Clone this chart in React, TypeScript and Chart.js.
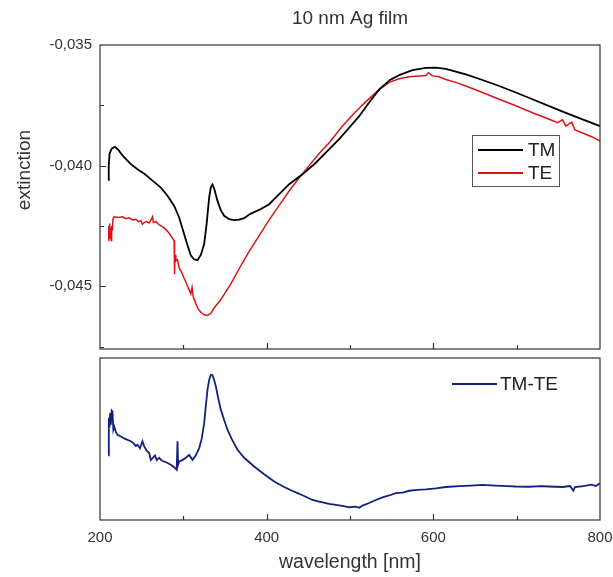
import React, { useEffect, useRef } from 'react';
import { Chart, registerables } from 'chart.js';

Chart.register(...registerables);

// ---------- data ----------
const TITLE = '10 nm Ag film';
const Y_TITLE = 'extinction';
const X_TITLE = 'wavelength [nm]';

const TM_WL = [210, 210.5, 211.5, 214, 218, 222, 228, 237, 245, 254, 263, 273, 281, 289, 295, 301, 305, 309, 313, 317, 321, 325, 328, 331, 333, 335, 337, 341, 345, 349, 355, 361, 367, 373, 380, 393, 403, 409, 427, 443, 459, 473, 487, 499, 511, 523, 535, 548, 559, 575, 591, 603, 615, 627, 639, 659, 679, 699, 719, 739, 759, 779, 800];
const TM_VAL = [-0.0406, -0.0400, -0.0395, -0.0393, -0.03922, -0.03935, -0.03962, -0.03994, -0.04015, -0.04036, -0.04062, -0.04091, -0.04125, -0.04167, -0.04215, -0.04284, -0.0433, -0.04373, -0.04388, -0.04392, -0.0437, -0.04325, -0.0424, -0.04132, -0.0409, -0.04078, -0.04095, -0.04146, -0.04185, -0.04208, -0.04222, -0.04226, -0.04224, -0.04218, -0.04201, -0.0418, -0.0416, -0.04139, -0.04077, -0.04036, -0.03988, -0.03939, -0.0389, -0.03843, -0.03795, -0.03738, -0.03684, -0.03645, -0.03625, -0.03604, -0.03595, -0.03594, -0.03599, -0.0361, -0.03622, -0.03645, -0.0367, -0.03697, -0.03725, -0.03753, -0.03781, -0.03808, -0.03836];

const TE_WL = [210, 210.5, 211, 211.6, 212.2, 212.8, 213.4, 214, 214.8, 215.6, 217, 222, 227, 231, 235, 239, 243, 246, 249, 251, 253, 256, 259, 261, 263, 264, 267, 270, 273, 277, 281, 285, 289, 289.5, 290, 291, 293, 295, 297, 299, 301, 303, 305, 307, 309, 310.5, 312, 315, 318, 321, 325, 329, 333, 337, 345, 357, 369, 379, 391, 403, 415, 427, 439, 451, 463, 475, 491, 503, 515, 527, 535, 547, 559, 571, 583, 591, 594, 599, 607, 615, 627, 639, 659, 679, 699, 719, 739, 749, 755, 759, 766, 770, 780, 790, 800];
const TE_VAL = [-0.0431, -0.0425, -0.043, -0.0424, -0.0429, -0.0426, -0.0431, -0.0425, -0.0427, -0.0422, -0.04212, -0.04215, -0.04212, -0.0422, -0.04216, -0.04225, -0.04222, -0.04232, -0.04228, -0.04243, -0.04236, -0.04232, -0.04238, -0.04226, -0.04212, -0.04236, -0.04232, -0.04242, -0.0425, -0.04258, -0.04272, -0.0429, -0.04311, -0.0445, -0.0437, -0.04395, -0.0439, -0.04425, -0.04436, -0.0445, -0.04468, -0.04482, -0.045, -0.04515, -0.04532, -0.04505, -0.04545, -0.04572, -0.04595, -0.04608, -0.04618, -0.04621, -0.04612, -0.0459, -0.04555, -0.0449, -0.04415, -0.04355, -0.0429, -0.04225, -0.04165, -0.04105, -0.0405, -0.04, -0.0395, -0.03905, -0.03836, -0.0379, -0.03748, -0.0371, -0.03685, -0.03655, -0.0364, -0.03632, -0.03628, -0.03626, -0.03615, -0.03628, -0.03632, -0.03643, -0.03655, -0.0367, -0.03697, -0.03725, -0.03752, -0.03781, -0.03808, -0.03822, -0.0381, -0.03836, -0.0382, -0.03852, -0.03866, -0.0388, -0.03898];

const DIFF_WL = [210, 210.6, 211.4, 212.2, 213, 214, 215, 216, 217, 219, 221, 225, 229, 233, 237, 240, 243, 245, 248, 251, 253, 256, 259, 261, 263, 266, 268, 271, 273, 276, 280, 285, 289, 292, 293, 293.7, 295, 299, 303, 307, 311, 315, 319, 322, 325, 327, 329, 331, 333, 335, 337, 339, 342, 345, 349, 353, 358, 365, 373, 385, 397, 409, 421, 433, 445, 455, 463, 475, 491, 499, 507, 511, 515, 523, 531, 539, 547, 555, 563, 571, 581, 591, 603, 615, 631, 645, 659, 675, 689, 699, 715, 729, 739, 755, 764, 768, 770, 780, 790, 795, 800];
const DIFF_VAL = [0.0018, 0.0034, 0.003, 0.0036, 0.0031, 0.0037, 0.00366, 0.0029, 0.00303, 0.0028, 0.00267, 0.0026, 0.00252, 0.00246, 0.0024, 0.00232, 0.0022, 0.00225, 0.0021, 0.0024, 0.00218, 0.002, 0.0019, 0.0016, 0.00168, 0.0018, 0.0016, 0.0017, 0.00161, 0.00155, 0.0015, 0.0014, 0.0013, 0.00119, 0.0024, 0.0014, 0.00154, 0.0016, 0.0017, 0.00182, 0.00161, 0.0018, 0.00211, 0.0025, 0.00317, 0.0039, 0.00459, 0.005, 0.00522, 0.0052, 0.005, 0.00473, 0.0042, 0.00374, 0.0033, 0.00289, 0.0025, 0.00204, 0.0017, 0.00133, 0.001, 0.00069, 0.00046, 0.00026, 0.00008, -0.00009, -0.00016, -0.00026, -0.00034, -0.0004, -0.00037, -0.00042, -0.00033, -0.00022, -0.00009, 0.00002, 0.0001, 0.0002, 0.00022, 0.0003, 0.00034, 0.00036, 0.0004, 0.00046, 0.0005, 0.00052, 0.00055, 0.00052, 0.0005, 0.00048, 0.00047, 0.0005, 0.00048, 0.00046, 0.0005, 0.0003, 0.00046, 0.0005, 0.00056, 0.0005, 0.00062];

const X_LABEL_TICKS = [200, 400, 600, 800];
const X_MAJOR_INNER = [400, 600];
const X_MINOR_INNER = [300, 500, 700];
const Y_TICKS = [-0.045, -0.04, -0.035];
const Y_MINOR = [-0.0475, -0.0425, -0.0375];

// ---------- styling ----------
const FONT = '"Liberation Sans", Arial, sans-serif';
const TEXT = '#333';
const FRAME = '#333';

const pts = (xs: number[], ys: number[]) => xs.map((x, i) => ({ x, y: ys[i] }));

const framePlugin = {
  id: 'frame',
  afterDatasetsDraw(chart: any, _a: any, opts: any) {
    const { ctx, chartArea: a, scales } = chart;
    ctx.save();
    ctx.strokeStyle = FRAME;
    ctx.lineWidth = 1.2;
    ctx.strokeRect(a.left, a.top, a.right - a.left, a.bottom - a.top);
    ctx.beginPath();
    const xs = scales.x;
    for (const v of opts.xMajor || []) {
      const p = Math.round(xs.getPixelForValue(v)) + 0.5;
      ctx.moveTo(p, a.bottom); ctx.lineTo(p, a.bottom - 6);
    }
    for (const v of opts.xMinor || []) {
      const p = Math.round(xs.getPixelForValue(v)) + 0.5;
      ctx.moveTo(p, a.bottom); ctx.lineTo(p, a.bottom - 4);
    }
    if (opts.yMajor) {
      const ys = scales.y;
      for (const v of opts.yMajor) {
        const p = Math.round(ys.getPixelForValue(v)) + 0.5;
        ctx.moveTo(a.left, p); ctx.lineTo(a.left + 6, p);
      }
      for (const v of opts.yMinor || []) {
        const p = Math.round(ys.getPixelForValue(v)) + 0.5;
        ctx.moveTo(a.left, p); ctx.lineTo(a.left + 4, p);
      }
    }
    ctx.stroke();

    // legend
    const lg = opts.legend;
    if (lg) {
      if (lg.box) {
        ctx.fillStyle = '#fff';
        ctx.fillRect(lg.box.x, lg.box.y, lg.box.w, lg.box.h);
        ctx.strokeStyle = '#555';
        ctx.lineWidth = 1;
        ctx.strokeRect(lg.box.x + 0.5, lg.box.y + 0.5, lg.box.w, lg.box.h);
      }
      ctx.font = `19px ${FONT}`;
      ctx.textBaseline = 'middle';
      ctx.textAlign = 'left';
      lg.items.forEach((it: any) => {
        const ds = chart.data.datasets[it.index];
        ctx.strokeStyle = ds.borderColor;
        ctx.lineWidth = 2;
        ctx.beginPath();
        ctx.moveTo(it.x0, it.y); ctx.lineTo(it.x1, it.y);
        ctx.stroke();
        ctx.fillStyle = '#222';
        ctx.fillText(ds.label, it.tx, it.y + 1);
      });
    }

    // title / y-title
    if (opts.title) {
      ctx.fillStyle = TEXT;
      ctx.font = `19px ${FONT}`;
      ctx.textAlign = 'center';
      ctx.textBaseline = 'middle';
      ctx.fillText(opts.title, (a.left + a.right) / 2, 19);
    }
    if (opts.yTitle) {
      ctx.fillStyle = TEXT;
      ctx.font = `19px ${FONT}`;
      ctx.textAlign = 'center';
      ctx.textBaseline = 'alphabetic';
      ctx.translate(30, 170);
      ctx.rotate(-Math.PI / 2);
      ctx.fillText(opts.yTitle, 0, 0);
    }
    ctx.restore();
  },
};

export default function App() {
  const topRef = useRef<HTMLCanvasElement>(null);
  const botRef = useRef<HTMLCanvasElement>(null);

  useEffect(() => {
    const top = new Chart(topRef.current!, {
      type: 'line',
      data: {
        datasets: [
          { label: 'TM', data: pts(TM_WL, TM_VAL), borderColor: '#000000', borderWidth: 1.8, pointRadius: 0, tension: 0, fill: false },
          { label: 'TE', data: pts(TE_WL, TE_VAL), borderColor: '#d91414', borderWidth: 1.5, pointRadius: 0, tension: 0, fill: false },
        ],
      },
      options: {
        animation: false,
        responsive: false,
        devicePixelRatio: 1,
        parsing: false as any,
        layout: { padding: { top: 45, right: 13, bottom: 6, left: 0 } },
        plugins: {
          legend: { display: false },
          tooltip: { enabled: false },
          frame: {
            xMajor: X_MAJOR_INNER,
            xMinor: X_MINOR_INNER,
            yMajor: Y_TICKS.slice(0, 2),
            yMinor: Y_MINOR,
            title: TITLE,
            yTitle: Y_TITLE,
            legend: {
              box: { x: 472, y: 135, w: 87, h: 51 },
              items: [
                { index: 0, x0: 478, x1: 523, y: 150, tx: 528 },
                { index: 1, x0: 478, x1: 523, y: 173, tx: 528 },
              ],
            },
          },
        } as any,
        scales: {
          x: { type: 'linear', min: 200, max: 800, display: false },
          y: {
            type: 'linear',
            min: -0.0476,
            max: -0.035,
            grid: { display: false, drawTicks: false },
            border: { display: false },
            afterBuildTicks: (s: any) => { s.ticks = Y_TICKS.map((v) => ({ value: v })); },
            afterFit: (s: any) => { s.width = 100; s.paddingTop = 0; s.paddingBottom = 0; },
            ticks: {
              padding: 8,
              color: TEXT,
              font: { family: FONT, size: 15 },
              callback: (v: any) => Number(v).toFixed(3).replace('.', ','),
            },
          },
        },
      },
      plugins: [framePlugin],
    });

    const bot = new Chart(botRef.current!, {
      type: 'line',
      data: {
        datasets: [
          { label: 'TM-TE', data: pts(DIFF_WL, DIFF_VAL), borderColor: '#13207f', borderWidth: 1.8, pointRadius: 0, tension: 0, fill: false },
        ],
      },
      options: {
        animation: false,
        responsive: false,
        devicePixelRatio: 1,
        parsing: false as any,
        layout: { padding: { top: 8, right: 13, bottom: 0, left: 100 } },
        plugins: {
          legend: { display: false },
          tooltip: { enabled: false },
          frame: {
            xMajor: X_MAJOR_INNER,
            xMinor: X_MINOR_INNER,
            legend: {
              items: [{ index: 0, x0: 452, x1: 497, y: 34, tx: 500 }],
            },
          },
        } as any,
        scales: {
          x: {
            type: 'linear',
            min: 200,
            max: 800,
            grid: { display: false, drawTicks: false },
            border: { display: false },
            afterBuildTicks: (s: any) => { s.ticks = X_LABEL_TICKS.map((v) => ({ value: v })); },
            afterFit: (s: any) => { s.height = 57; s.paddingLeft = 0; s.paddingRight = 0; },
            ticks: {
              padding: 9,
              color: TEXT,
              font: { family: FONT, size: 15 },
              maxRotation: 0,
              callback: (v: any) => String(v),
            },
            title: {
              display: true,
              text: X_TITLE,
              color: TEXT,
              font: { family: FONT, size: 19.5 },
              padding: { top: 0, bottom: 3 },
            },
          },
          y: { type: 'linear', min: -0.00094, max: 0.00593, display: false },
        },
      },
      plugins: [framePlugin],
    });

    return () => { top.destroy(); bot.destroy(); };
  }, []);

  return (
    <div style={{ position: 'absolute', left: 0, top: 0, width: 613, height: 577, background: '#fff' }}>
      <canvas ref={topRef} width={613} height={355} style={{ position: 'absolute', left: 0, top: 0 }} />
      <canvas ref={botRef} width={613} height={227} style={{ position: 'absolute', left: 0, top: 350 }} />
    </div>
  );
}
